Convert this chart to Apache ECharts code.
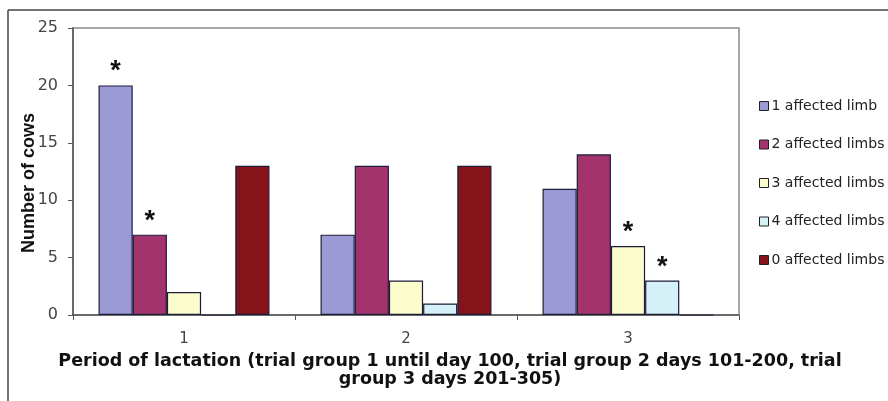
<!DOCTYPE html>
<html><head><meta charset="utf-8">
<script src="https://cdn.jsdelivr.net/npm/echarts@6/dist/echarts.min.js"></script>
<style>html,body{margin:0;padding:0;background:#fff}#c{width:888px;height:401px}</style>
</head><body><div id="c"></div>
<script>
const categories = ['1', '2', '3'];
const seriesNames = ['1 affected limb', '2 affected limbs', '3 affected limbs', '4 affected limbs', '0 affected limbs'];
const oneLimb   = [20, 7, 11];
const twoLimbs  = [7, 13, 14];
const threeLimbs = [2, 3, 6];
const fourLimbs = [0, 1, 3];
const zeroLimbs = [13, 13, 0];
const oneSig   = [true, false, false];
const twoSig   = [true, false, false];
const threeSig = [false, false, true];
const fourSig  = [false, false, true];
const zeroSig  = [false, false, false];
const yTicks = [0, 5, 10, 15, 20, 25];
const xTitle = 'Period of lactation (trial group 1 until day 100, trial group 2 days 101-200, trial\ngroup 3 days 201-305)';
const yTitle = 'Number of cows';

const colors = ['#9c9ad6', '#a3336c', '#fcfccc', '#d3f1f6', '#86131a'];
const values = [oneLimb, twoLimbs, threeLimbs, fourLimbs, zeroLimbs];
const sigs = [oneSig, twoSig, threeSig, fourSig, zeroSig];

const chart = echarts.init(document.getElementById('c'), null, {renderer: 'canvas'});
const series = seriesNames.map((name, i) => ({
  name, type: 'bar',
  barGap: '0%', barCategoryGap: '23%',
  itemStyle: {color: colors[i], borderColor: '#1d1d3a', borderWidth: 1.2},
  data: values[i].map((v, j) => ({
    value: v,
    label: {show: sigs[i][j], position: 'top', formatter: '*', fontSize: 27, fontWeight: 'bold', color: '#111', fontFamily: 'Liberation Sans', distance: 0}
  }))
}));

chart.setOption({
  animation: false,
  color: colors,
  grid: {left: 73, right: 149, top: 28, bottom: 86, show: true, borderColor: '#a8a8a8', borderWidth: 2,
         containLabel: false, outerBoundsMode: 'none'},
  legend: {
    orient: 'vertical', left: 754, top: 94, itemGap: 24.5, itemWidth: 9, itemHeight: 9,
    icon: 'rect',
    textStyle: {fontSize: 14, color: '#222', fontFamily: 'DejaVu Sans', padding: [0, 0, 0, -2]},
    itemStyle: {borderColor: '#222', borderWidth: 1}
  },
  xAxis: {
    type: 'category', data: categories,
    name: xTitle,
    nameLocation: 'middle', nameGap: 37,
    nameTextStyle: {fontSize: 17.5, fontWeight: 'bold', color: '#111', fontFamily: 'DejaVu Sans', lineHeight: 18.5, align: 'center', padding: [0, 0, 0, 88]},
    axisLine: {lineStyle: {color: '#555', width: 1.5}},
    axisTick: {show: true, length: 5, lineStyle: {color: '#555'}},
    axisLabel: {fontSize: 15, color: '#444', fontFamily: 'DejaVu Sans', margin: 17}
  },
  yAxis: {
    type: 'value', min: yTicks[0], max: yTicks[yTicks.length - 1], interval: 5,
    axisLine: {show: true, lineStyle: {color: '#555', width: 1.5}},
    axisTick: {show: true, length: 5, inside: false, lineStyle: {color: '#555'}},
    splitLine: {show: false},
    axisLabel: {fontSize: 16, color: '#444', fontFamily: 'DejaVu Sans', margin: 15}
  },
  graphic: [
    {type: 'line', shape: {x1: 8, y1: 10, x2: 888, y2: 10}, style: {stroke: '#444', lineWidth: 1.5}, z: 100},
    {type: 'line', shape: {x1: 8, y1: 10, x2: 8, y2: 401}, style: {stroke: '#444', lineWidth: 1.5}, z: 100},
    {type: 'text', x: 29, y: 183, rotation: Math.PI / 2,
     style: {text: yTitle, fontSize: 18, fontWeight: 'bold', fill: '#111', fontFamily: 'Liberation Sans', align: 'center', verticalAlign: 'middle'}}
  ],
  series
});
</script></body></html>
